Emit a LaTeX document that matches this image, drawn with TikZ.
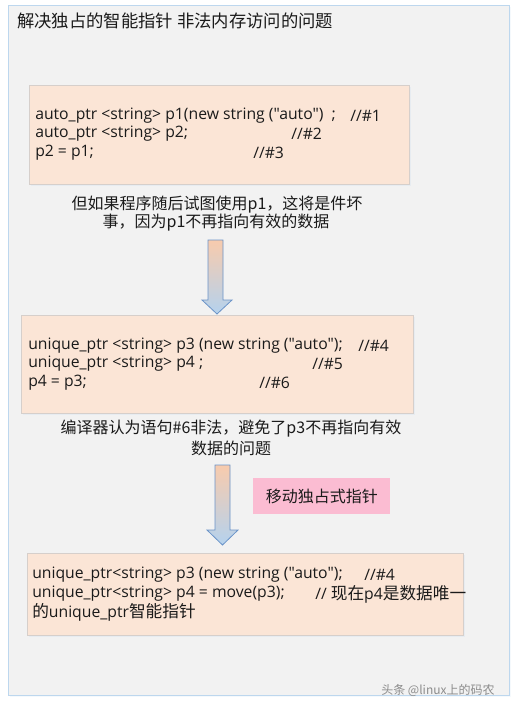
\documentclass[tikz,border=0pt]{standalone}
\usepackage{fontspec}
\setmainfont{Noto Sans CJK SC}
\newfontfamily\codefont{Open Sans}
\newfontfamily\cjk{Noto Sans CJK SC}
\usetikzlibrary{shadows}
\definecolor{panelfill}{HTML}{F2F2F2}
\definecolor{paneldraw}{HTML}{BDD7EE}
\definecolor{boxfill}{HTML}{FBE5D6}
\definecolor{boxdraw}{HTML}{D6CFCB}
\definecolor{pinkfill}{HTML}{FBBCD2}
\definecolor{arrtop}{HTML}{F8CBAD}
\definecolor{arrbot}{HTML}{B4D2EE}
\definecolor{arrdraw}{HTML}{6A93C8}
\definecolor{txt}{HTML}{1A1A1A}
\tikzset{
  x=0.75pt, y=-0.75pt,
  panel/.style={draw=paneldraw, fill=panelfill, line width=0.8pt, anchor=north west, inner sep=0pt,
    drop shadow={opacity=0.15, shadow xshift=0.8pt, shadow yshift=-0.8pt, fill=paneldraw}},
  codebox/.style={draw=boxdraw, fill=boxfill, line width=0.6pt, anchor=north west, inner sep=0pt,
    drop shadow={opacity=0.2, shadow xshift=1pt, shadow yshift=-1pt, fill=paneldraw}},
  pinkbox/.style={fill=pinkfill, anchor=north west, inner sep=0pt},
  code/.style={anchor=west, inner sep=0pt, text=txt, font=\codefont\fontsize{11.8}{13}\selectfont},
  caption/.style={anchor=center, inner sep=0pt, text=txt, font=\fontsize{12}{14}\selectfont},
  titletext/.style={anchor=west, inner sep=0pt, text=txt, font=\fontsize{13}{15}\selectfont},
  blockarrow/.style={draw=arrdraw, line width=0.6pt, top color=arrtop, bottom color=arrbot, line join=miter},
}
\newcommand\ck[1]{{\cjk\fontsize{12.5}{14}\selectfont #1}}
\begin{document}
\begin{tikzpicture}
\useasboundingbox (0,0) rectangle (519,709);
\fill[white] (0,0) rectangle (519,709);
\node[panel, minimum width=375.75pt, minimum height=517.5pt] (panel) at (8,5) {};
\node[titletext] (title) at (17,21) {解决独占的智能指针 非法内存访问的问题};

% box 1
\node[codebox, minimum width=285pt, minimum height=74.25pt] (box1) at (29,85) {};
\node[code] (l1) at (35,116) {auto\_ptr <string> p1(new string ("auto")\ \ ;};
\node[code] (c1) at (350,116) {//\#1};
\node[code] (l2) at (35,134) {auto\_ptr <string> p2;};
\node[code] (c2) at (291,134) {//\#2};
\node[code] (l3) at (35,153) {p2 = p1;};
\node[code] (c3) at (253,153) {//\#3};

\node[caption] (cap1a) at (217,205) {但如果程序随后试图使用p1，这将是件坏};
\node[caption] (cap1b) at (216,223) {事，因为p1不再指向有效的数据};

% arrow 1
\path[blockarrow] (208,240) -- (223,240) -- (223,300) -- (232,300) -- (217,314) -- (202,300) -- (208,300) -- cycle;

% box 2
\node[codebox, minimum width=294pt, minimum height=73.5pt] (box2) at (21,315) {};
\node[code] (l4) at (28,346) {unique\_ptr <string> p3 (new string ("auto");};
\node[code] (c4) at (358,346) {//\#4};
\node[code] (l5) at (28,364) {unique\_ptr <string> p4 ;};
\node[code] (c5) at (312,364) {//\#5};
\node[code] (l6) at (28,383) {p4 = p3;};
\node[code] (c6) at (259,383) {//\#6};

\node[caption] (cap2a) at (231,429) {编译器认为语句\#6非法，避免了p3不再指向有效};
\node[caption] (cap2b) at (231,448) {数据的问题};

% arrow 2
\path[blockarrow] (215,465) -- (230,465) -- (230,530) -- (238,530) -- (222.5,545) -- (207,530) -- (215,530) -- cycle;

% pink label
\node[pinkbox, minimum width=102.75pt, minimum height=27pt] (pink) at (253,478) {};
\node[caption] (pinktxt) at (pink.center) {移动独占式指针};

% box 3
\node[codebox, minimum width=327pt, minimum height=61.5pt] (box3) at (27,553) {};
\node[code] (l7) at (32,575) {unique\_ptr<string> p3 (new string ("auto");};
\node[code] (c7) at (364,575) {//\#4};
\node[code] (l8) at (32,594) {unique\_ptr<string> p4 = move(p3);};
\node[code] (c8) at (315,594) {// \ck{现在}p4\ck{是数据唯一}};
\node[code] (l9) at (32,612) {\ck{的}unique\_ptr\ck{智能指针}};

% watermark
\node[anchor=west, inner sep=0pt, text=black!45, font=\fontsize{9}{10}\selectfont] (wm) at (381,690) {头条 @linux上的码农};
\end{tikzpicture}
\end{document}
